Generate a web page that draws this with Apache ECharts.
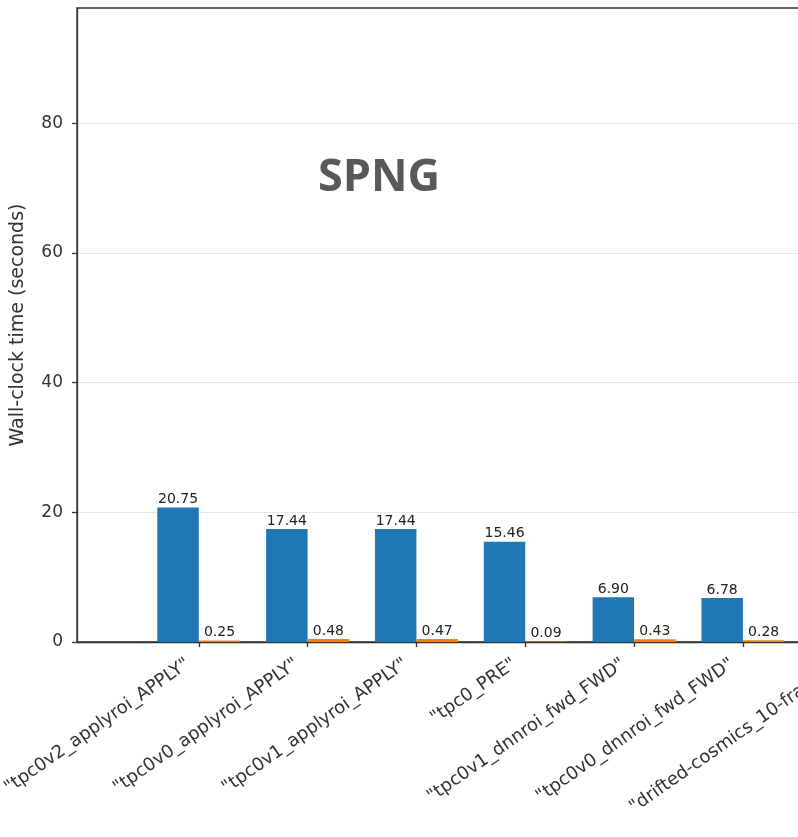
<!DOCTYPE html>
<html>
<head>
<meta charset="utf-8">
<script src="https://cdn.jsdelivr.net/npm/echarts@6/dist/echarts.min.js"></script>
<style>html,body{margin:0;padding:0;background:#fff}#c{width:798px;height:837px}</style>
</head>
<body>
<div id="c"></div>
<script>
var categories = ['"tpc0v2_applyroi_APPLY"', '"tpc0v0_applyroi_APPLY"', '"tpc0v1_applyroi_APPLY"', '"tpc0_PRE"', '"tpc0v1_dnnroi_fwd_FWD"', '"tpc0v0_dnnroi_fwd_FWD"', '"drifted-cosmics_10-frames"'];
var blueValues = [20.75, 17.44, 17.44, 15.46, 6.90, 6.78];
var orangeValues = [0.25, 0.48, 0.47, 0.09, 0.43, 0.28];
var yTicks = [0, 20, 40, 60, 80];

var chart = echarts.init(document.getElementById('c'), null, {renderer: 'canvas'});
function pairs(arr) { return arr.map(function (v, i) { return [i, v]; }); }
var idx = categories.map(function (c, i) { return i; });
var font = 'DejaVu Sans';
chart.setOption({
  animation: false,
  backgroundColor: '#ffffff',
  title: {
    text: 'SPNG', left: 374, top: 151, textAlign: 'center',
    textStyle: {fontFamily: 'Open Sans', fontWeight: 'bold', fontSize: 45, color: '#595959'}
  },
  grid: {left: 77, top: 8, width: 938, height: 634, show: true, borderColor: '#333', borderWidth: 1.3,
    backgroundColor: 'transparent', outerBoundsMode: 'none', containLabel: false},
  xAxis: {
    type: 'value', min: -1.119, max: 7.5,
    axisLine: {show: true, onZero: false, lineStyle: {color: '#333', width: 1.3}},
    axisTick: {show: true, customValues: idx, length: 5, lineStyle: {color: '#333', width: 1.3}},
    axisLabel: {customValues: idx, rotate: 35, margin: 13, padding: [0, 13, 0, 0], fontFamily: font, fontSize: 18, color: '#333',
      formatter: function (v) { return categories[Math.round(v)]; }},
    splitLine: {show: false}
  },
  yAxis: {
    type: 'value', min: 0, max: 97.8,
    name: 'Wall-clock time (seconds)', nameLocation: 'middle', nameGap: 49,
    nameTextStyle: {fontFamily: font, fontSize: 19, color: '#333'},
    axisLine: {show: true, onZero: false, lineStyle: {color: '#333', width: 1.3}},
    axisTick: {show: true, customValues: yTicks, length: 5, lineStyle: {color: '#333', width: 1.3}},
    axisLabel: {customValues: yTicks, fontFamily: font, fontSize: 17, color: '#333', margin: 14},
    splitLine: {show: true, lineStyle: {color: '#e8e8e8', width: 1.2}}
  },
  series: [
    {type: 'bar', data: pairs(blueValues), barWidth: 41.5, barGap: '0%',
      itemStyle: {color: '#1f77b4'},
      label: {show: true, position: 'top', distance: 1, fontFamily: font, fontSize: 14, color: '#222',
        formatter: function (p) { return p.value[1].toFixed(2); }}},
    {type: 'bar', data: pairs(orangeValues), barWidth: 41.5, barGap: '0%',
      itemStyle: {color: '#ff7f0e'},
      label: {show: true, position: 'top', distance: 1, fontFamily: font, fontSize: 14, color: '#222',
        formatter: function (p) { return p.value[1].toFixed(2); }}}
  ]
});
</script>
</body>
</html>
